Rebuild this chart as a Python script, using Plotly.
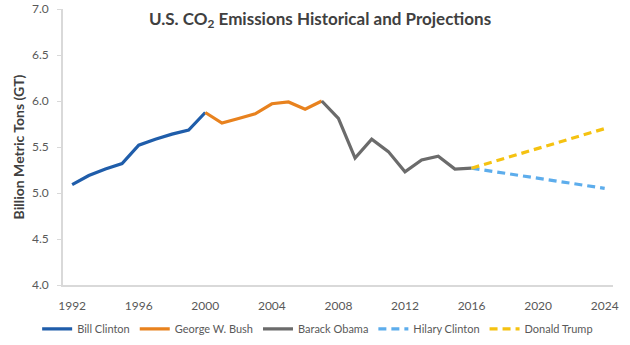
import plotly.graph_objects as go

clinton_years = [1992, 1993, 1994, 1995, 1996, 1997, 1998, 1999, 2000]
clinton_vals = [5.09, 5.19, 5.26, 5.32, 5.52, 5.585, 5.64, 5.685, 5.875]

bush_years = [2000, 2001, 2002, 2003, 2004, 2005, 2006, 2007]
bush_vals = [5.875, 5.76, 5.81, 5.86, 5.97, 5.99, 5.91, 6.00]

obama_years = [2007, 2008, 2009, 2010, 2011, 2012, 2013, 2014, 2015, 2016]
obama_vals = [6.00, 5.81, 5.38, 5.585, 5.45, 5.23, 5.36, 5.40, 5.26, 5.27]

hilary_years = [2016, 2024]
hilary_vals = [5.27, 5.05]

trump_years = [2016, 2024]
trump_vals = [5.27, 5.70]

x_ticks = [1992, 1996, 2000, 2004, 2008, 2012, 2016, 2020, 2024]
y_ticks = [4.0, 4.5, 5.0, 5.5, 6.0, 6.5, 7.0]

FONT = "Lato, 'Open Sans', sans-serif"

fig = go.Figure()
series = [
    ("Bill Clinton", clinton_years, clinton_vals, "#1F5DAA", "solid"),
    ("George W. Bush", bush_years, bush_vals, "#E8821E", "solid"),
    ("Barack Obama", obama_years, obama_vals, "#6B6B6B", "solid"),
    ("Hilary Clinton", hilary_years, hilary_vals, "#5DADEC", "8px,5px"),
    ("Donald Trump", trump_years, trump_vals, "#F5C211", "8px,5px"),
]
for name, xs, ys, col, dash in series:
    fig.add_trace(go.Scatter(x=xs, y=ys, name=name, mode="lines",
                             line=dict(color=col, width=3.2, dash=dash)))

fig.update_layout(
    width=630, height=345,
    margin=dict(l=63, r=17, t=9, b=60, autoexpand=False),
    paper_bgcolor="white", plot_bgcolor="white",
    font=dict(family=FONT, color="#595959", size=12),
    title=dict(text="<b>U.S. CO<sub>2</sub> Emissions Historical and Projections</b>",
               x=0.508, xanchor="center", y=0.945, yanchor="middle",
               font=dict(size=17, color="#404040", family=FONT)),
    xaxis=dict(range=[1991.45, 2024.5], tickvals=x_ticks,
               ticktext=[str(v) for v in x_ticks], automargin=False,
               showgrid=False, zeroline=False, showline=True,
               linecolor="#D9D9D9", linewidth=1.5, ticks="",
               ticklabelstandoff=9, tickfont=dict(size=12, color="#595959")),
    yaxis=dict(range=[4.0, 7.0], tickvals=y_ticks,
               ticktext=[f"{v:.1f}" for v in y_ticks], automargin=False,
               showgrid=False, zeroline=False, showline=True,
               linecolor="#D9D9D9", linewidth=1.5, ticks="outside",
               ticklen=4, tickcolor="#D9D9D9",
               ticklabelstandoff=6, tickfont=dict(size=12, color="#595959"),
               title=dict(text="<b>Billion Metric Tons (GT)</b>", standoff=4,
                          font=dict(size=14, color="#404040"))),
    legend=dict(orientation="h", x=-0.047, xanchor="left", y=-0.159, yanchor="middle",
                font=dict(size=11, color="#595959"), itemwidth=30,
                bgcolor="rgba(0,0,0,0)"),
    showlegend=True,
)

fig.write_html("out.html")
